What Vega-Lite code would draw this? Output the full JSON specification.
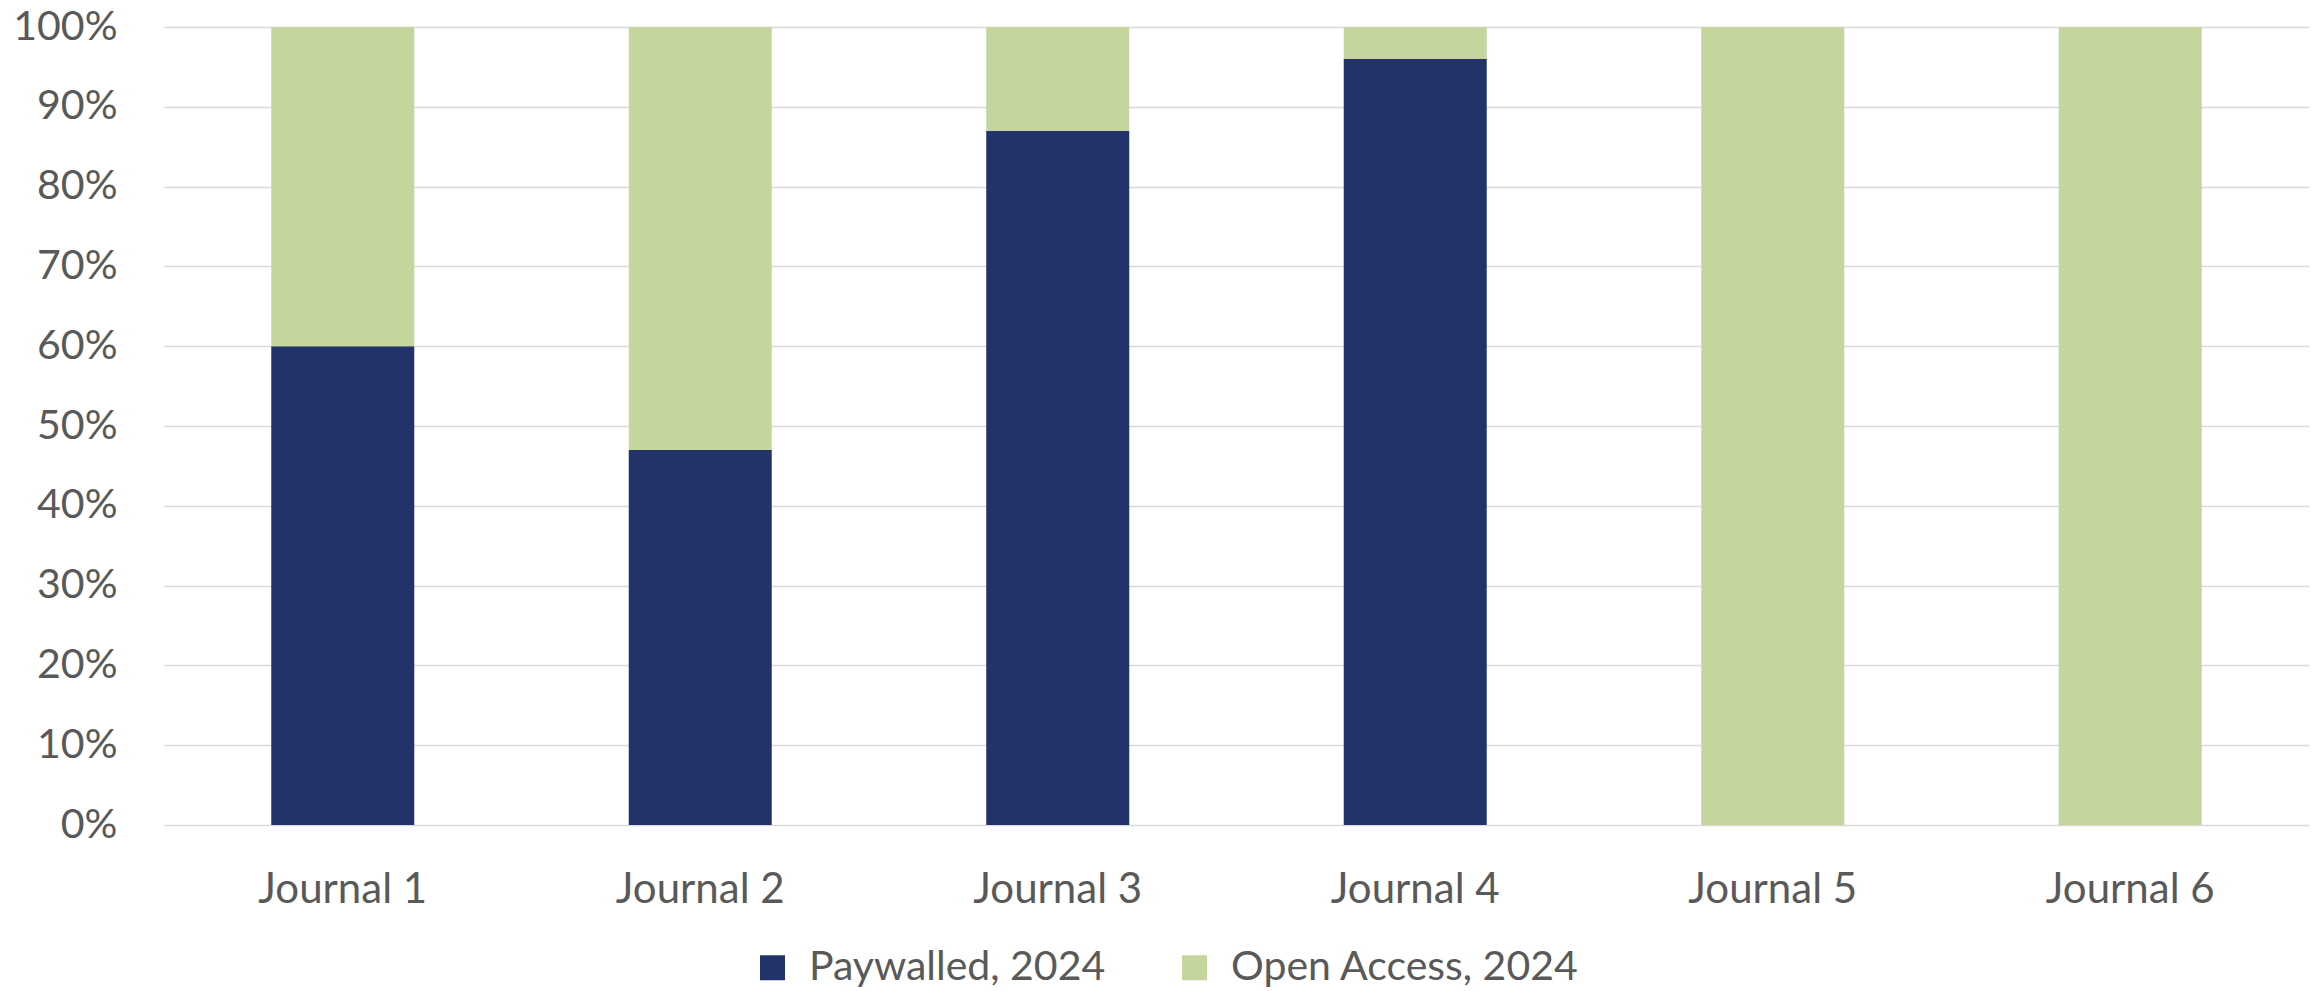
{
  "$schema": "https://vega.github.io/schema/vega-lite/v6.json",
  "autosize": "none",
  "width": 2145,
  "height": 798,
  "padding": {"left": 164, "top": 27, "right": 12, "bottom": 166},
  "background": "white",
  "data": {
    "values": [
      {"journal": "Journal 1", "series": "Paywalled, 2024", "share": 0.60},
      {"journal": "Journal 1", "series": "Open Access, 2024", "share": 0.40},
      {"journal": "Journal 2", "series": "Paywalled, 2024", "share": 0.47},
      {"journal": "Journal 2", "series": "Open Access, 2024", "share": 0.53},
      {"journal": "Journal 3", "series": "Paywalled, 2024", "share": 0.87},
      {"journal": "Journal 3", "series": "Open Access, 2024", "share": 0.13},
      {"journal": "Journal 4", "series": "Paywalled, 2024", "share": 0.96},
      {"journal": "Journal 4", "series": "Open Access, 2024", "share": 0.04},
      {"journal": "Journal 5", "series": "Paywalled, 2024", "share": 0.0},
      {"journal": "Journal 5", "series": "Open Access, 2024", "share": 1.0},
      {"journal": "Journal 6", "series": "Paywalled, 2024", "share": 0.0},
      {"journal": "Journal 6", "series": "Open Access, 2024", "share": 1.0}
    ]
  },
  "mark": {"type": "bar"},
  "encoding": {
    "x": {
      "field": "journal",
      "type": "nominal",
      "sort": null,
      "scale": {"paddingInner": 0.6, "paddingOuter": 0.3},
      "axis": {
        "title": null,
        "labelAngle": 0,
        "ticks": false,
        "domain": false,
        "grid": false,
        "labelPadding": 44,
        "labelFont": "Lato",
        "labelFontSize": 42,
        "labelColor": "#595959"
      }
    },
    "y": {
      "field": "share",
      "type": "quantitative",
      "stack": "zero",
      "scale": {"domain": [0, 1], "nice": false},
      "axis": {
        "title": null,
        "values": [0, 0.1, 0.2, 0.3, 0.4, 0.5, 0.6, 0.7, 0.8, 0.9, 1.0],
        "format": ".0%",
        "ticks": false,
        "domain": false,
        "grid": true,
        "gridColor": "#d9d9d9",
        "gridWidth": 1.5,
        "labelPadding": 47,
        "labelFont": "Lato",
        "labelFontSize": 41,
        "labelColor": "#595959"
      }
    },
    "color": {
      "field": "series",
      "type": "nominal",
      "scale": {
        "domain": ["Paywalled, 2024", "Open Access, 2024"],
        "range": ["#22336A", "#C4D69D"]
      },
      "legend": {
        "title": null,
        "orient": "none",
        "direction": "horizontal",
        "legendX": 588,
        "legendY": 920,
        "padding": 0,
        "symbolType": "square",
        "symbolSize": 625,
        "symbolStrokeWidth": 0,
        "symbolOpacity": 1,
        "labelOffset": 16,
        "columnPadding": 68,
        "labelFont": "Lato",
        "labelFontSize": 41,
        "labelColor": "#595959",
        "labelLimit": 600
      }
    },
    "order": {"field": "series", "sort": "descending"}
  },
  "config": {
    "view": {"stroke": null}
  }
}
